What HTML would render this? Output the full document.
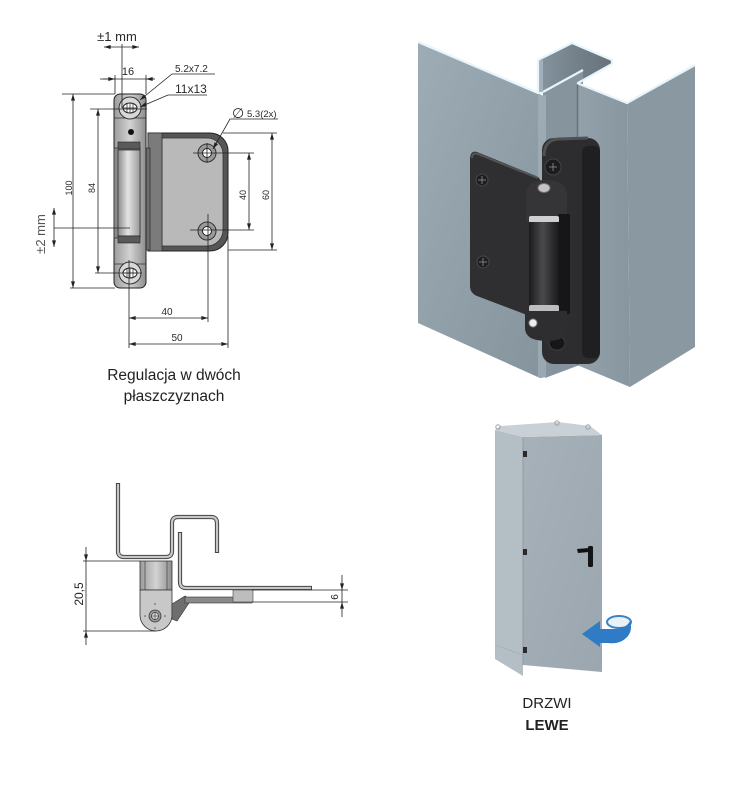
<!DOCTYPE html>
<html><head><meta charset="utf-8">
<style>html,body{margin:0;padding:0;background:#fff;width:749px;height:798px;overflow:hidden}svg{display:block}</style>
</head><body>
<svg xmlns="http://www.w3.org/2000/svg" width="749" height="798" viewBox="0 0 749 798" font-family="Liberation Sans, DejaVu Sans, sans-serif">
<defs>
<marker id="ar" viewBox="0 0 10 6" refX="10" refY="3" markerWidth="7" markerHeight="4" markerUnits="userSpaceOnUse" orient="auto-start-reverse"><path d="M0,0L10,3L0,6z" fill="#222"/></marker>
<linearGradient id="cyl" x1="0" x2="1" y1="0" y2="0"><stop offset="0" stop-color="#8c8c8c"/><stop offset=".45" stop-color="#e4e4e4"/><stop offset="1" stop-color="#9a9a9a"/></linearGradient>
<linearGradient id="brk" x1="0" x2="1" y1="0" y2="0"><stop offset="0" stop-color="#9c9c9c"/><stop offset=".5" stop-color="#d2d2d2"/><stop offset="1" stop-color="#8e8e8e"/></linearGradient>
<linearGradient id="lp" x1="0" x2="1" y1="0" y2="1"><stop offset="0" stop-color="#9eacb6"/><stop offset="1" stop-color="#85939d"/></linearGradient>
<linearGradient id="rp" x1="0" x2="1" y1="0" y2="0"><stop offset="0" stop-color="#93a1ab"/><stop offset="1" stop-color="#8896a0"/></linearGradient>
<linearGradient id="ch" x1="0" x2="1" y1="0" y2="0"><stop offset="0" stop-color="#8795a0"/><stop offset=".5" stop-color="#74818b"/><stop offset="1" stop-color="#66727b"/></linearGradient>
<linearGradient id="kn" x1="0" x2="1" y1="0" y2="0"><stop offset="0" stop-color="#1b1b1d"/><stop offset=".45" stop-color="#4a4a4d"/><stop offset="1" stop-color="#19191b"/></linearGradient>
<linearGradient id="door" x1="0" x2="1" y1="0" y2="1"><stop offset="0" stop-color="#a6b1b9"/><stop offset="1" stop-color="#9ba6ae"/></linearGradient>
</defs>

<!-- ============ TOP-LEFT TECHNICAL DRAWING ============ -->
<path d="M148,133H210A18,18 0 0 1 228,151V233A18,18 0 0 1 210,251H148Z" fill="#565656" stroke="#222"/>
<path d="M162,138H207A16,16 0 0 1 223,154V230A16,16 0 0 1 207,246H162Z" fill="#b9b9b9" stroke="#333" stroke-width=".8"/>
<rect x="148" y="133" width="14" height="118" fill="#7b7b7b" stroke="#333" stroke-width=".8"/>
<rect x="139" y="148" width="11" height="102" fill="#6e6e6e" stroke="#333" stroke-width=".8"/>
<rect x="114" y="94" width="32" height="194" rx="6" fill="url(#brk)" stroke="#222"/>
<rect x="114" y="148" width="26" height="90" fill="#8a8a8a" stroke="#333" stroke-width=".8"/>
<rect x="118" y="150" width="22" height="86" fill="url(#cyl)" stroke="#333" stroke-width=".8"/>
<rect x="118" y="142" width="22" height="7" fill="#5a5a5a" stroke="#222" stroke-width=".6"/>
<rect x="118" y="236" width="22" height="7" fill="#5a5a5a" stroke="#222" stroke-width=".6"/>
<line x1="114" y1="118" x2="146" y2="118" stroke="#333" stroke-width=".8"/>
<line x1="114" y1="264" x2="146" y2="264" stroke="#333" stroke-width=".8"/>
<circle cx="131" cy="132" r="3" fill="#111"/>
<circle cx="130" cy="108" r="11" fill="#d8d8d8" stroke="#333"/>
<ellipse cx="130" cy="108" rx="7" ry="5" fill="#fff" stroke="#222"/>
<path d="M127,103.5V112.5M130,103V113M133,103.5V112.5M123,108H137" stroke="#222" stroke-width=".7"/>
<circle cx="130" cy="273" r="11" fill="#d8d8d8" stroke="#333"/>
<ellipse cx="130" cy="273" rx="7" ry="5" fill="#fff" stroke="#222"/>
<path d="M127,268.5V277.5M130,268V278M133,268.5V277.5M123,273H137" stroke="#222" stroke-width=".7"/>
<circle cx="207" cy="153" r="9" fill="#9a9a9a" stroke="#333"/>
<circle cx="207" cy="153" r="4.5" fill="#fff" stroke="#222"/>
<circle cx="207" cy="231" r="9" fill="#9a9a9a" stroke="#333"/>
<circle cx="207" cy="231" r="4.5" fill="#fff" stroke="#222"/>

<g stroke="#222" stroke-width=".8" fill="none">
 <line x1="104" y1="47" x2="139" y2="47" marker-start="url(#ar)" marker-end="url(#ar)"/>
 <line x1="122" y1="44" x2="122" y2="108"/>
 <line x1="100" y1="79" x2="154" y2="79"/>
 <line x1="103" y1="79" x2="115" y2="79" marker-end="url(#ar)"/>
 <line x1="155" y1="79" x2="146" y2="79" marker-end="url(#ar)"/>
 <line x1="115" y1="75" x2="115" y2="94"/>
 <line x1="146" y1="75" x2="146" y2="94"/>
 <polyline points="215,74 172,74 140,100" marker-end="url(#ar)"/>
 <polyline points="207,95 168,95 140,107" marker-end="url(#ar)"/>
 <polyline points="278,119 230,119 213,149" marker-end="url(#ar)"/>
 <line x1="62" y1="94" x2="115" y2="94"/>
 <line x1="70" y1="288" x2="115" y2="288"/>
 <line x1="73" y1="94" x2="73" y2="288" marker-start="url(#ar)" marker-end="url(#ar)"/>
 <line x1="90" y1="109" x2="147" y2="109"/>
 <line x1="95" y1="273" x2="142" y2="273"/>
 <line x1="98" y1="109" x2="98" y2="273" marker-start="url(#ar)" marker-end="url(#ar)"/>
 <line x1="54" y1="208" x2="54" y2="247" marker-start="url(#ar)" marker-end="url(#ar)"/>
 <line x1="54" y1="228" x2="130" y2="228"/>
 <line x1="193" y1="153" x2="254" y2="153"/>
 <line x1="190" y1="230" x2="254" y2="230"/>
 <line x1="249" y1="153" x2="249" y2="230" marker-start="url(#ar)" marker-end="url(#ar)"/>
 <line x1="223" y1="133" x2="277" y2="133"/>
 <line x1="228" y1="250" x2="277" y2="250"/>
 <line x1="272" y1="133" x2="272" y2="250" marker-start="url(#ar)" marker-end="url(#ar)"/>
 <line x1="207" y1="143" x2="207" y2="163"/>
 <line x1="129" y1="260" x2="129" y2="348"/>
 <line x1="208" y1="214" x2="208" y2="322"/>
 <line x1="228" y1="236" x2="228" y2="348"/>
 <line x1="129" y1="318" x2="208" y2="318" marker-start="url(#ar)" marker-end="url(#ar)"/>
 <line x1="129" y1="344" x2="228" y2="344" marker-start="url(#ar)" marker-end="url(#ar)"/>
</g>

<g fill="#2a2a2a">
 <text x="117" y="41" font-size="13" text-anchor="middle">±1 mm</text>
 <text x="128" y="75" font-size="11" text-anchor="middle">16</text>
 <text x="175" y="72" font-size="10">5.2x7.2</text>
 <text x="175" y="93" font-size="12">11x13</text>
 <text x="232" y="118" font-size="14" font-family="DejaVu Sans, sans-serif">∅</text>
 <text x="247" y="117" font-size="9.5">5.3(2x)</text>
 <text transform="translate(72,188) rotate(-90)" font-size="9" text-anchor="middle">100</text>
 <text transform="translate(95,188) rotate(-90)" font-size="9" text-anchor="middle">84</text>
 <text transform="translate(246,195) rotate(-90)" font-size="9" text-anchor="middle">40</text>
 <text transform="translate(269,195) rotate(-90)" font-size="9" text-anchor="middle">60</text>
 <text transform="translate(45,234) rotate(-90)" font-size="13" text-anchor="middle" fill="#555">±2 mm</text>
 <text x="167" y="315" font-size="10" text-anchor="middle">40</text>
 <text x="177" y="341" font-size="10" text-anchor="middle">50</text>
</g>
<g fill="#222" font-size="15.5" text-anchor="middle">
 <text x="174" y="380">Regulacja w dwóch</text>
 <text x="174" y="401">płaszczyznach</text>
</g>

<!-- ============ TOP-RIGHT 3D RENDER ============ -->
<polygon points="538,60 572,43 612,60 612,64 578,83 577,83 543,92 538,93" fill="url(#ch)"/>
<polygon points="538,60 543,60 543,93 538,93" fill="#a2afb9"/>
<polygon points="543,92 583,70 583,365 577,366 545,378" fill="#86949e"/>
<polygon points="418,42 538,93 546,98 546,377 540,378 418,323" fill="url(#lp)"/>
<rect x="538" y="95" width="8" height="282" fill="#a3b1bb" opacity=".7"/>
<polygon points="577,83 627,103 630,387 577,365" fill="url(#rp)"/>
<polygon points="627,103 695,65 695,347 630,387" fill="#8a98a2"/>
<line x1="577.5" y1="84" x2="577.5" y2="365" stroke="#66727b" stroke-width="1.5"/>
<g stroke="#e6f4fb" stroke-width="2.2" fill="none" stroke-linejoin="round">
 <polyline points="418,42 538,93 543,93"/>
 <polyline points="538,92 538,60 572,43 612,60 612,64"/>
 <line x1="543" y1="92" x2="583" y2="70"/>
 <line x1="578" y1="83" x2="612" y2="64"/>
 <polyline points="577,83 627,103 695,65"/>
</g>
<path d="M477,152L536,176Q541,178 541,184L541,314Q541,320 535,318L477,296Q470,293 470,286L470,160Q470,150 477,152Z" fill="#2f2f31"/>
<path d="M472,158Q472,152 478,154L538,178" stroke="#555558" stroke-width="2" fill="none"/>
<circle cx="482" cy="180" r="6" fill="#1e1e20" stroke="#48484b"/>
<path d="M478,180h8M482,176v8" stroke="#7a7a7d"/>
<circle cx="483" cy="262" r="6" fill="#1e1e20" stroke="#48484b"/>
<path d="M479,262h8M483,258v8" stroke="#7a7a7d"/>
<rect x="542" y="138" width="58" height="226" rx="12" fill="#2d2d2f"/>
<rect x="582" y="146" width="18" height="212" rx="6" fill="#1f1f21"/>
<path d="M544,156Q544,140 558,139L588,138" stroke="#515154" stroke-width="3" fill="none"/>
<circle cx="553" cy="167" r="8" fill="#1c1c1e" stroke="#444447"/>
<path d="M549,167h8M553,163v8" stroke="#7a7a7d"/>
<ellipse cx="557" cy="343" rx="8" ry="7" fill="#161618" stroke="#3c3c3f"/>
<path d="M526,196Q526,180 546,180Q567,180 567,196V222H526Z" fill="#353537"/>
<ellipse cx="544" cy="188" rx="6" ry="4.5" fill="#c4c4c6" stroke="#777"/>
<rect x="558" y="214" width="12" height="100" fill="#161618"/>
<rect x="529" y="216" width="30" height="7" rx="2" fill="#cfcfd1"/>
<rect x="529" y="222" width="30" height="85" fill="url(#kn)"/>
<rect x="529" y="305" width="30" height="7" rx="2" fill="#bdbdc0"/>
<path d="M525,311H567V328Q567,341 547,341Q525,341 525,328Z" fill="#2e2e30"/>
<circle cx="533" cy="323" r="4" fill="#eeeeee" stroke="#888"/>

<!-- ============ BOTTOM-LEFT DRAWING ============ -->
<g fill="none" stroke-linejoin="round">
 <path d="M118,483V551Q118,557 124,557H166Q172,557 172,551V523Q172,517 178,517H211Q217,517 217,523V553" stroke="#444" stroke-width="4.2"/>
 <path d="M118,484V551Q118,557 124,557H166Q172,557 172,551V523Q172,517 178,517H211Q217,517 217,523V552" stroke="#c6c6c6" stroke-width="2.2"/>
 <path d="M180,532V582Q180,588 186,588H312" stroke="#444" stroke-width="4.2"/>
 <path d="M180,533V582Q180,588 186,588H311" stroke="#c6c6c6" stroke-width="2.2"/>
</g>
<rect x="140" y="561" width="32" height="29" fill="url(#brk)" stroke="#333" stroke-width=".8"/>
<path d="M145,561V590M167,561V590" stroke="#333" stroke-width=".6"/>
<path d="M140,590H172V615A16,16 0 0 1 140,615Z" fill="#c8c8c8" stroke="#333" stroke-width=".8"/>
<circle cx="155" cy="616" r="6" fill="#9a9a9a" stroke="#333" stroke-width=".8"/>
<circle cx="155" cy="616" r="3.5" fill="#ddd" stroke="#222" stroke-width=".6"/>
<path d="M151,616H159M155,612V620" stroke="#222" stroke-width=".6"/>
<g fill="#555"><circle cx="155" cy="604" r=".8"/><circle cx="155" cy="628" r=".8"/><circle cx="145" cy="616" r=".8"/><circle cx="165" cy="616" r=".8"/></g>
<polygon points="172,604 185,596 191,600 177,621 172,619" fill="#6e6e6e" stroke="#333" stroke-width=".6"/>
<rect x="185" y="597" width="67" height="6" fill="#8a8a8a" stroke="#333" stroke-width=".6"/>
<rect x="233" y="590" width="20" height="12" fill="#bdbdbd" stroke="#444" stroke-width=".6"/>
<g stroke="#222" stroke-width=".8" fill="none">
 <line x1="83" y1="561" x2="140" y2="561"/>
 <line x1="83" y1="631" x2="156" y2="631"/>
 <line x1="86" y1="561" x2="86" y2="631"/>
 <line x1="86" y1="547" x2="86" y2="561" marker-end="url(#ar)"/>
 <line x1="86" y1="645" x2="86" y2="631" marker-end="url(#ar)"/>
 <line x1="252" y1="590" x2="348" y2="590"/>
 <line x1="252" y1="602" x2="348" y2="602"/>
 <line x1="342" y1="590" x2="342" y2="602"/>
 <line x1="342" y1="575" x2="342" y2="590" marker-end="url(#ar)"/>
 <line x1="342" y1="617" x2="342" y2="602" marker-end="url(#ar)"/>
</g>
<text transform="translate(83,594) rotate(-90)" font-size="12" text-anchor="middle" fill="#222">20,5</text>
<text transform="translate(338,597) rotate(-90)" font-size="10" text-anchor="middle" fill="#222">6</text>

<!-- ============ BOTTOM-RIGHT CABINET ============ -->
<polygon points="495,430 523,437 523,676 495,659" fill="#b4bec5"/>
<polygon points="523,437 602,435 602,672 523,665" fill="url(#door)"/>
<polygon points="495,430 500,426 558,422 590,426 602,435 523,437" fill="#c9d1d6"/>
<line x1="523" y1="437" x2="523" y2="665" stroke="#8f9aa2" stroke-width="1"/>
<line x1="495" y1="645" x2="523" y2="655" stroke="#a3adb4" stroke-width=".8"/>
<g fill="none" stroke="#9aa3aa" stroke-width="1"><circle cx="498" cy="427" r="2.2"/><circle cx="557" cy="423" r="2.2"/><circle cx="588" cy="427" r="2.2"/></g>
<g fill="#2a2a2a"><rect x="523" y="451" width="4" height="6"/><rect x="523" y="549" width="4" height="6"/><rect x="523" y="647" width="4" height="6"/></g>
<path d="M577,549L589,548L589,552L578,553Z" fill="#111"/>
<rect x="588" y="546" width="5" height="21" rx="1.5" fill="#151515"/>
<ellipse cx="619" cy="622" rx="12" ry="6" fill="#e9f0f7" stroke="#3a82c9" stroke-width="2"/>
<path d="M582,634L600,621L600,629L614,629Q626,629 630,621Q634,634 622,641Q616,644 608,643L600,643L600,647Z" fill="#2f7bc6"/>
<g fill="#222" font-size="15" text-anchor="middle">
 <text x="547" y="708">DRZWI</text>
 <text x="547" y="730" font-weight="bold">LEWE</text>
</g>
</svg>
</body></html>
